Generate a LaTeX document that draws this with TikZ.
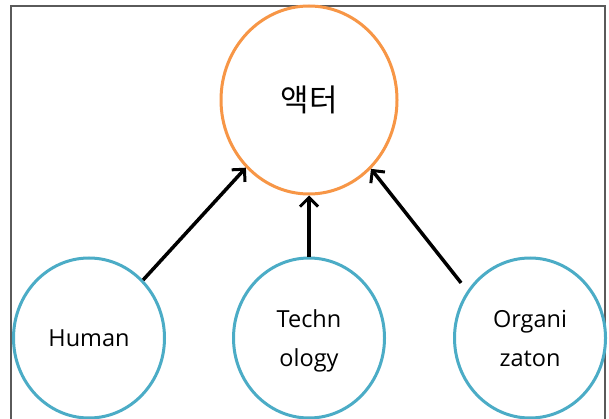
\documentclass[tikz,border=0pt]{standalone}
\usepackage{fontspec}
\setmainfont{Open Sans}
\newfontfamily\krfont{Noto Sans CJK KR}
\usetikzlibrary{shapes.geometric,arrows.meta}
\definecolor{actorline}{HTML}{F79646}
\definecolor{factorline}{HTML}{4BACC6}
\definecolor{frameline}{HTML}{5A5A5A}
\tikzset{
  actorbox/.style={ellipse, draw=actorline, line width=3pt, inner sep=0pt,
    minimum width=176pt, minimum height=188pt,
    font=\krfont\fontsize{31}{36}\selectfont},
  factorbox/.style={ellipse, draw=factorline, line width=3pt, inner sep=0pt,
    minimum width=151pt, minimum height=160pt, align=center,
    font=\fontsize{23.5}{36}\selectfont},
  link/.style={line width=3.5pt, -{Straight Barb[length=9pt,width=18pt,line width=3pt]}}
}
\begin{document}
\begin{tikzpicture}[x=1pt,y=-1pt]
  \useasboundingbox (0,0) rectangle (609,419);
  \fill[white] (0,0) rectangle (609,419);
  \begin{scope}
    \clip (0,0) rectangle (609,419);
    % outer frame, open at the bottom
    \draw[frameline, line width=1.5pt] (11,430) -- (11,6) -- (605,6) -- (605,430);

    \node[actorbox] (actor) at (309,100) {액터};
    \node[factorbox] (human) at (89,338) {Human};
    \node[factorbox, text depth=0pt] (tech) at (309,338) {\raisebox{-3pt}{}Techn\\[3pt]ology};
    \node[factorbox] (org) at (530,338) {Organi\\[3pt]zaton};

    \draw[link] (human.47) -- (actor.227);
    \draw[link] (tech.90) -- (actor.270);
    \draw[link, shorten <=10pt] (org.143) -- (actor.312);
  \end{scope}
\end{tikzpicture}
\end{document}
